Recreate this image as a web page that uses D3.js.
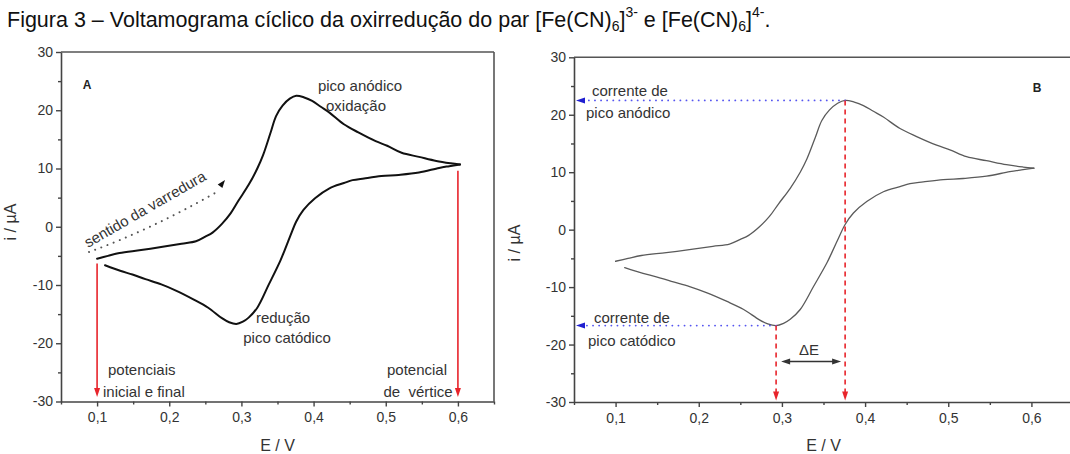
<!DOCTYPE html>
<html>
<head>
<meta charset="utf-8">
<script src="https://cdn.jsdelivr.net/npm/d3@7"></script>
<style>
  body { margin: 0; background: #fff; }
  svg { display: block; font-family: Arial, "Liberation Sans", sans-serif; }
</style>
</head>
<body>
<svg id="chart" width="1070" height="454"></svg>
<script>
// Cyclic voltammogram of the ferricyanide / ferrocyanide couple.
// Forward (anodic) sweep, 0.1 V -> 0.6 V: potential (V) and current (µA)
const forwardE = [0.100, 0.115, 0.131, 0.161, 0.193, 0.217, 0.237, 0.250, 0.260, 0.273,
                  0.285, 0.296, 0.310, 0.322, 0.330, 0.340, 0.348, 0.357, 0.367, 0.376,
                  0.387, 0.398, 0.410, 0.422, 0.442, 0.462, 0.486, 0.502, 0.522, 0.546,
                  0.570, 0.590, 0.603];
const forwardI = [-5.5, -5.0, -4.5, -4.0, -3.4, -2.9, -2.5, -1.7, -1.0, 0.5,
                  2.3, 4.5, 7.2, 10.0, 12.3, 16.0, 19.0, 20.8, 22.0, 22.5,
                  22.2, 21.6, 20.6, 19.6, 17.6, 16.2, 14.7, 13.9, 12.7, 12.0,
                  11.3, 10.9, 10.7];
// Reverse (cathodic) sweep, 0.6 V -> 0.1 V
const reverseE = [0.603, 0.588, 0.574, 0.546, 0.518, 0.494, 0.470, 0.454, 0.442, 0.422,
                  0.402, 0.386, 0.376, 0.368, 0.360, 0.354, 0.338, 0.322, 0.310, 0.302,
                  0.293, 0.283, 0.273, 0.254, 0.234, 0.210, 0.189, 0.167, 0.149, 0.133,
                  0.111];
const reverseI = [10.7, 10.4, 10.1, 9.3, 8.9, 8.7, 8.3, 8.0, 7.5, 6.6,
                  4.9, 2.9, 0.9, -1.5, -4.0, -5.8, -9.9, -13.9, -15.6, -16.3,
                  -16.7, -16.4, -15.7, -13.9, -12.5, -11.0, -9.9, -9.0, -8.2, -7.6,
                  -6.6];

// Axis ticks
const potentialTicks = [0.1, 0.2, 0.3, 0.4, 0.5, 0.6];
const potentialMinor = [0.05, 0.15, 0.25, 0.35, 0.45, 0.55, 0.65];
const currentTicks = [-30, -20, -10, 0, 10, 20, 30];
const currentMinor = [-25, -15, -5, 5, 15, 25];

// Characteristic points of the voltammogram
const anodicPeakE = 0.376, anodicPeakI = 22.5;
const cathodicPeakE = 0.293, cathodicPeakI = -16.7;
const startPotential = 0.1, vertexPotential = 0.6;

const svg = d3.select("#chart");
const locale = d3.formatLocale({ decimal: ",", thousands: ".", grouping: [3],
  currency: ["", ""], minus: "-" });
const fmtE = locale.format(".1f");
const fmtI = locale.format("d");

const forward = forwardE.map((e, k) => [e, forwardI[k]]);
const reverse = reverseE.map((e, k) => [e, reverseI[k]]);

// ----- title -----
const title = svg.append("text").attr("x", 7).attr("y", 27)
  .attr("font-size", 21.5).attr("fill", "#111");
title.append("tspan").text("Figura 3 – Voltamograma cíclico da oxirredução do par [Fe(CN)");
title.append("tspan").attr("font-size", 14).attr("dy", 4).text("6");
title.append("tspan").attr("dy", -4).text("]");
title.append("tspan").attr("font-size", 14).attr("dy", -10).text("3-");
title.append("tspan").attr("dy", 10).text(" e [Fe(CN)");
title.append("tspan").attr("font-size", 14).attr("dy", 4).text("6");
title.append("tspan").attr("dy", -4).text("]");
title.append("tspan").attr("font-size", 14).attr("dy", -10).text("4-");
title.append("tspan").attr("dy", 10).text(".");

function triangle(g, tip, dir, len, half, color) {
  // filled arrowhead with its tip at `tip`, pointing along unit vector `dir`
  const [tx, ty] = tip, [dx, dy] = dir;
  const bx = tx - dx * len, by = ty - dy * len;
  const px = -dy * half, py = dx * half;
  g.append("path")
    .attr("d", `M${tx},${ty}L${bx + px},${by + py}L${bx - px},${by - py}Z`)
    .attr("fill", color);
}

function drawPanel(opt) {
  const x = d3.scaleLinear().domain([0.05, 0.65]).range([opt.left, opt.right]);
  const y = d3.scaleLinear().domain([-30, 30]).range([opt.bottom, opt.top]);
  const g = svg.append("g");

  // frame (top and right edges)
  g.append("line").attr("x1", opt.left).attr("x2", opt.right)
    .attr("y1", opt.top).attr("y2", opt.top)
    .attr("stroke", "#555").attr("stroke-width", 1.6);
  g.append("line").attr("x1", opt.right).attr("x2", opt.right)
    .attr("y1", opt.top).attr("y2", opt.bottom)
    .attr("stroke", "#555").attr("stroke-width", 1.6);

  // minor ticks
  g.append("g").attr("transform", `translate(0,${opt.bottom})`)
    .call(d3.axisBottom(x).tickValues(potentialMinor).tickSize(3).tickSizeOuter(0).tickFormat(""))
    .call(s => s.select(".domain").remove());
  g.append("g").attr("transform", `translate(${opt.left},0)`)
    .call(d3.axisLeft(y).tickValues(currentMinor).tickSize(3).tickSizeOuter(0).tickFormat(""))
    .call(s => s.select(".domain").remove());

  // major axes
  const ax = g.append("g").attr("transform", `translate(0,${opt.bottom})`)
    .call(d3.axisBottom(x).tickValues(potentialTicks).tickSize(5).tickSizeOuter(0)
      .tickPadding(6).tickFormat(fmtE));
  const ay = g.append("g").attr("transform", `translate(${opt.left},0)`)
    .call(d3.axisLeft(y).tickValues(currentTicks).tickSize(5).tickSizeOuter(0)
      .tickPadding(3).tickFormat(fmtI));
  g.selectAll(".tick line").attr("stroke", "#444").attr("stroke-width", 1.4);
  [ax, ay].forEach(a => {
    a.select(".domain").attr("stroke", "#444").attr("stroke-width", 1.6);
    a.selectAll("text").attr("font-size", 14).attr("fill", "#333")
      .attr("font-family", "Arial, 'Liberation Sans', sans-serif");
  });

  // axis titles
  g.append("text").attr("x", (opt.left + opt.right) / 2 + opt.xTitleShift).attr("y", 451)
    .attr("text-anchor", "middle").attr("font-size", 16).attr("fill", "#333").text("E / V");
  g.append("text")
    .attr("transform", `translate(${opt.yTitleX},${opt.yTitleY}) rotate(-90)`)
    .attr("text-anchor", "middle").attr("font-size", 16).attr("fill", "#333").text("i / µA");

  // panel letter
  g.append("text").attr("x", opt.letterX).attr("y", opt.letterY)
    .attr("text-anchor", "middle").attr("font-size", 12).attr("font-weight", "bold")
    .attr("fill", "#222").text(opt.letter);

  // voltammogram
  const line = d3.line().x(d => x(d[0])).y(d => y(d[1])).curve(d3.curveCatmullRom.alpha(0.5));
  [forward, reverse].forEach(branch => {
    g.append("path").attr("d", line(branch)).attr("fill", "none")
      .attr("stroke", opt.curveColor).attr("stroke-width", opt.curveWidth)
      .attr("stroke-linejoin", "round").attr("stroke-linecap", "round");
  });
  return { g, x, y };
}

// ----- Panel A -----
const A = drawPanel({ left: 61, right: 494, top: 52, bottom: 401.5, letter: "A",
  letterX: 87, letterY: 89, curveColor: "#111", curveWidth: 2,
  xTitleShift: 0, yTitleX: 16, yTitleY: 222 });
{
  const { g, x, y } = A;
  const red = "#e8242b";
  // start / final potential marker
  g.append("line").attr("x1", x(startPotential)).attr("x2", x(startPotential))
    .attr("y1", y(-6.3)).attr("y2", 390).attr("stroke", red).attr("stroke-width", 1.6);
  triangle(g, [x(startPotential), 397], [0, 1], 9, 3, red);
  // vertex potential marker
  g.append("line").attr("x1", x(vertexPotential)).attr("x2", x(vertexPotential))
    .attr("y1", y(9.6)).attr("y2", 390).attr("stroke", red).attr("stroke-width", 1.6);
  triangle(g, [x(vertexPotential), 397], [0, 1], 9, 3, red);

  // sweep direction: dotted arc with arrowhead
  g.append("path").attr("d", "M89,252 Q150,230 215,193")
    .attr("fill", "none").attr("stroke", "#555").attr("stroke-width", 2)
    .attr("stroke-dasharray", "0.1,6.5").attr("stroke-linecap", "round");
  triangle(g, [225, 180], [0.62, -0.78], 8, 3, "#111");
  g.append("text").attr("transform", "translate(88,248) rotate(-30)")
    .attr("font-size", 15).attr("fill", "#333").text("sentido da varredura");

  const note = (t, px, py, anchor) => g.append("text").attr("x", px).attr("y", py)
    .attr("text-anchor", anchor || "middle").attr("font-size", 15).attr("fill", "#333")
    .style("white-space", "pre").text(t);
  note("pico anódico", 360, 91);
  note("oxidação", 356, 111);
  note("redução", 283, 323);
  note("pico catódico", 287, 343);
  note("potenciais", 108, 375, "start");
  note("inicial e final", 103, 397, "start");
  note("potencial", 417, 375);
  note("de  vértice", 418, 397);
}

// ----- Panel B -----
const B = drawPanel({ left: 574, right: 1073, top: 57.3, bottom: 402, letter: "B",
  letterX: 1037, letterY: 92, curveColor: "#5a5a5a", curveWidth: 1.3,
  xTitleShift: 0, yTitleX: 520, yTitleY: 243 });
{
  const { g, x, y } = B;
  const red = "#e8242b", blue = "#5555f0";
  // peak currents projected onto the current axis
  [[anodicPeakE, anodicPeakI], [cathodicPeakE, cathodicPeakI]].forEach(([e, i]) => {
    g.append("line").attr("x1", x(e)).attr("x2", x(0.05) + 10)
      .attr("y1", y(i)).attr("y2", y(i))
      .attr("stroke", blue).attr("stroke-width", 1.8)
      .attr("stroke-dasharray", "0.1,6").attr("stroke-linecap", "round");
    triangle(g, [x(0.05) + 2, y(i)], [-1, 0], 9, 3, "#1f1fd0");
  });
  // peak potentials projected onto the potential axis
  [[cathodicPeakE, cathodicPeakI], [anodicPeakE, anodicPeakI]].forEach(([e, i]) => {
    g.append("line").attr("x1", x(e)).attr("x2", x(e))
      .attr("y1", y(i)).attr("y2", 392)
      .attr("stroke", red).attr("stroke-width", 1.6).attr("stroke-dasharray", "5,4");
    triangle(g, [x(e), 400.5], [0, 1], 9, 3, red);
  });
  // peak separation ΔE
  const yd = 361.5, xa = x(cathodicPeakE) + 5, xb = x(anodicPeakE) - 4;
  g.append("line").attr("x1", xa + 6).attr("x2", xb - 6).attr("y1", yd).attr("y2", yd)
    .attr("stroke", "#333").attr("stroke-width", 1.3);
  triangle(g, [xa, yd], [-1, 0], 9, 3, "#333");
  triangle(g, [xb, yd], [1, 0], 9, 3, "#333");
  g.append("text").attr("x", (xa + xb) / 2 - 2).attr("y", 355).attr("text-anchor", "middle")
    .attr("font-size", 15).attr("fill", "#333").text("ΔE");

  const note = (t, px, py) => g.append("text").attr("x", px).attr("y", py)
    .attr("font-size", 15).attr("fill", "#333").text(t);
  note("corrente de", 592, y(anodicPeakI) - 4);
  note("pico anódico", 586, y(anodicPeakI) + 18);
  note("corrente de", 594, y(cathodicPeakI) - 3);
  note("pico catódico", 588, y(cathodicPeakI) + 20);
}
</script>
</body>
</html>
